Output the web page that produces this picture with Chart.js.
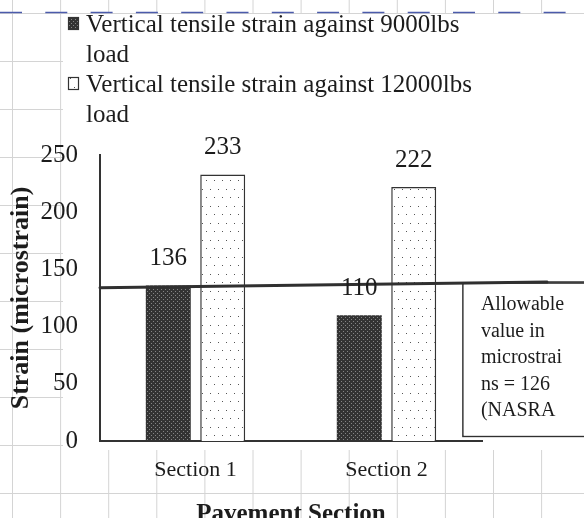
<!DOCTYPE html>
<html>
<head>
<meta charset="utf-8">
<script src="https://cdn.jsdelivr.net/npm/chart.js@4.4.1/dist/chart.umd.min.js"></script>
<style>
  body { margin: 0; background: #fff; }
  #wrap { width: 584px; height: 518px; position: relative; }
</style>
</head>
<body>
<div id="wrap"><canvas id="strainChart"></canvas></div>
<script>
// chart data
const sections = ['Section 1', 'Section 2'];
const strain9000 = [136, 110];
const strain12000 = [233, 222];
const legendLines = [
    ['Vertical tensile strain against 9000lbs', 'load'],
    ['Vertical tensile strain against 12000lbs', 'load']
];
const allowableLine = [134, 139];    // strain at both ends of the thick limit line
const allowableSpan = [-0.5, 1.84];  // category positions the thick line runs between
const noteLines = ['Allowable', 'value in', 'microstrai', 'ns = 126', '(NASRA'];
const yMax = 250;
const yStep = 50;

const serif = '"Liberation Serif", "Times New Roman", serif';
const ink = '#1c1c1c';

// fill patterns for the bars
function makePattern(w, h, bg, dotColor, dots) {
    const c = document.createElement('canvas');
    c.width = w; c.height = h;
    const g = c.getContext('2d');
    g.fillStyle = bg;
    g.fillRect(0, 0, w, h);
    g.fillStyle = dotColor;
    dots.forEach(d => g.fillRect(d[0], d[1], 1, 1));
    return g.createPattern(c, 'repeat');
}
const darkFill = makePattern(4, 4, '#333333', '#858585', [[1, 1], [3, 3]]);
const dotFill = makePattern(8, 17, '#ffffff', '#555555', [[2, 2], [6, 10]]);
const fills = [darkFill, dotFill];

// spreadsheet grid behind the chart object
const sheetBackground = {
    id: 'sheetBackground',
    beforeDraw(chart) {
        const ctx = chart.ctx, W = chart.width, H = chart.height;
        ctx.save();
        ctx.fillStyle = '#fff';
        ctx.fillRect(0, 0, W, H);
        ctx.strokeStyle = '#d4d4d4';
        ctx.lineWidth = 1;
        ctx.beginPath();
        for (let x = 12.5; x < W; x += 48.1) { ctx.moveTo(x, 0); ctx.lineTo(x, H); }
        for (let y = 13.5; y < H; y += 48) { ctx.moveTo(0, y); ctx.lineTo(W, y); }
        ctx.stroke();
        ctx.fillStyle = '#fff';
        ctx.fillRect(63, 14, W - 63, 436);
        ctx.strokeStyle = '#4b5bab';
        ctx.lineWidth = 1.5;
        ctx.setLineDash([22, 23.3]);
        ctx.beginPath();
        ctx.moveTo(0, 12.5);
        ctx.lineTo(W, 12.5);
        ctx.stroke();
        ctx.restore();
    }
};

// value labels above the bars
const barValues = {
    id: 'barValues',
    afterDraw(chart) {
        const ctx = chart.ctx;
        ctx.save();
        ctx.font = '25px ' + serif;
        ctx.fillStyle = ink;
        ctx.textAlign = 'center';
        ctx.textBaseline = 'middle';
        chart.data.datasets.forEach((ds, i) => {
            chart.getDatasetMeta(i).data.forEach((bar, j) => {
                ctx.fillText(ds.data[j], bar.x, bar.y - 27);
            });
        });
        ctx.restore();
    }
};

// allowable strain line and its note box
const allowable = {
    id: 'allowable',
    afterDatasetsDraw(chart) {
        const ctx = chart.ctx, W = chart.width;
        const xs = chart.scales.x, ys = chart.scales.y;
        const x0 = xs.getPixelForValue(allowableSpan[0]);
        const x1 = xs.getPixelForValue(allowableSpan[1]);
        const y0 = ys.getPixelForValue(allowableLine[0]);
        const y1 = ys.getPixelForValue(allowableLine[1]);
        ctx.save();
        ctx.strokeStyle = '#303030';
        ctx.lineCap = 'round';
        ctx.lineWidth = 3;
        ctx.beginPath();
        ctx.moveTo(x0, y0);
        ctx.lineTo(x1, y1);
        ctx.stroke();
        ctx.lineWidth = 1.5;
        ctx.beginPath();
        ctx.moveTo(x1, y1);
        ctx.lineTo(W, y1);
        ctx.stroke();

        const bx = xs.getPixelForValue(1.4);
        const top = y0 + (y1 - y0) * (bx - x0) / (x1 - x0);
        const bottom = ys.getPixelForValue(4);
        ctx.lineWidth = 1.5;
        ctx.strokeRect(bx, top, W - bx + 5, bottom - top);
        ctx.fillStyle = '#fff';
        ctx.fillRect(bx + 1, top + 2, W - bx, bottom - top - 3);
        ctx.font = '20px ' + serif;
        ctx.fillStyle = ink;
        ctx.textBaseline = 'middle';
        noteLines.forEach((t, i) => ctx.fillText(t, bx + 18, top + 22 + i * 26.5));
        ctx.restore();
    }
};

// legend with wrapped entries
const wrappedLegend = {
    id: 'wrappedLegend',
    afterDraw(chart) {
        const ctx = chart.ctx;
        ctx.save();
        ctx.font = '25px ' + serif;
        ctx.textBaseline = 'alphabetic';
        legendLines.forEach((lines, i) => {
            const base = 32 + i * 60;
            ctx.fillStyle = fills[i];
            ctx.fillRect(68, base - 15, 11, 13);
            ctx.strokeStyle = '#333';
            ctx.lineWidth = 1.2;
            ctx.strokeRect(68.5, base - 14.5, 10, 12);
            ctx.fillStyle = ink;
            lines.forEach((t, j) => ctx.fillText(t, 86, base + j * 30));
        });
        ctx.restore();
    }
};

new Chart(document.getElementById('strainChart'), {
    type: 'bar',
    data: {
        labels: sections,
        datasets: [
            {
                label: legendLines[0].join(' '),
                data: strain9000,
                backgroundColor: darkFill,
                borderWidth: 0
            },
            {
                label: legendLines[1].join(' '),
                data: strain12000,
                backgroundColor: dotFill,
                borderColor: '#333',
                borderWidth: 1.5
            }
        ]
    },
    options: {
        responsive: true,
        maintainAspectRatio: false,
        animation: false,
        categoryPercentage: 0.57,
        barPercentage: 0.826,
        layout: { padding: { top: 155, right: 102, left: 0, bottom: 0 } },
        plugins: {
            legend: { display: false },
            tooltip: { enabled: false }
        },
        scales: {
            x: {
                grid: { display: false, drawTicks: false },
                border: { display: true, color: '#333', width: 2 },
                ticks: { padding: 16, color: ink, font: { family: serif, size: 22 } },
                title: {
                    display: true,
                    text: 'Pavement Section',
                    color: ink,
                    font: { family: serif, size: 25, weight: 'bold' },
                    padding: { top: 0, bottom: -12 }
                },
                afterFit: s => { s.height = 77; }
            },
            y: {
                min: 0,
                max: yMax,
                grid: { display: false, drawTicks: false },
                border: { display: true, color: '#333', width: 2 },
                ticks: { stepSize: yStep, padding: 22, color: ink, font: { family: serif, size: 25 } },
                title: {
                    display: true,
                    text: 'Strain (microstrain)',
                    color: ink,
                    font: { family: serif, size: 26, weight: 'bold' },
                    padding: { top: 6, bottom: 0 }
                },
                afterFit: s => { s.width = 100; }
            }
        }
    },
    plugins: [sheetBackground, allowable, barValues, wrappedLegend]
});
</script>
</body>
</html>
